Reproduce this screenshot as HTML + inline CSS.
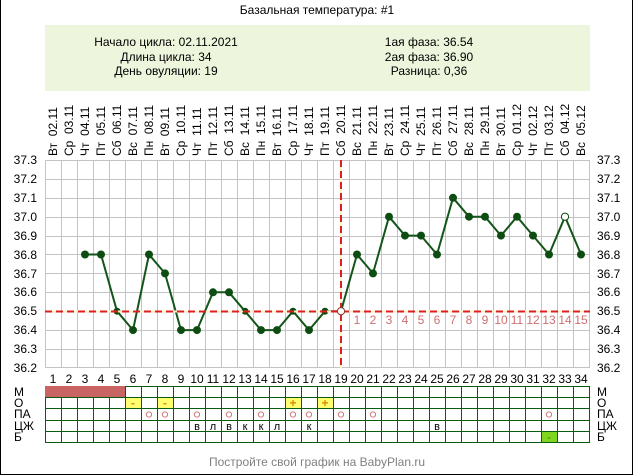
<!DOCTYPE html>
<html><head><meta charset="utf-8">
<style>
html,body{margin:0;padding:0;background:#fff;}
svg{display:block;font-family:"Liberation Sans",Arial,sans-serif;}
</style></head>
<body>
<svg width="634" height="476" viewBox="0 0 634 476" xmlns="http://www.w3.org/2000/svg">
<rect x="0" y="0" width="634" height="476" fill="#fff"/>
<path d="M0.5 0V474.5H632.5V0" fill="none" stroke="#000" stroke-width="1"/>

<text x="317" y="14" font-size="12" text-anchor="middle" fill="#000">Базальная температура: #1</text>

<rect x="45" y="25" width="545" height="66" fill="#edf5dc"/>
<g font-size="12" fill="#000" text-anchor="middle">
<text x="166" y="46">Начало цикла: 02.11.2021</text>
<text x="166" y="61">Длина цикла: 34</text>
<text x="166" y="75">День овуляции: 19</text>
<text x="429" y="46">1ая фаза: 36.54</text>
<text x="429" y="61">2ая фаза: 36.90</text>
<text x="429" y="75">Разница: 0,36</text>
</g>

<g transform="rotate(-90)" font-size="12" fill="#000">
<text x="-156" y="57">Вт&#160;&#160;02.11</text>
<text x="-156" y="73">Ср&#160;&#160;03.11</text>
<text x="-156" y="89">Чт&#160;&#160;04.11</text>
<text x="-156" y="105">Пт&#160;&#160;05.11</text>
<text x="-156" y="121">Сб&#160;&#160;06.11</text>
<text x="-156" y="137">Вс&#160;&#160;07.11</text>
<text x="-156" y="153">Пн&#160;&#160;08.11</text>
<text x="-156" y="169">Вт&#160;&#160;09.11</text>
<text x="-156" y="185">Ср&#160;&#160;10.11</text>
<text x="-156" y="201">Чт&#160;&#160;11.11</text>
<text x="-156" y="217">Пт&#160;&#160;12.11</text>
<text x="-156" y="233">Сб&#160;&#160;13.11</text>
<text x="-156" y="249">Вс&#160;&#160;14.11</text>
<text x="-156" y="265">Пн&#160;&#160;15.11</text>
<text x="-156" y="281">Вт&#160;&#160;16.11</text>
<text x="-156" y="297">Ср&#160;&#160;17.11</text>
<text x="-156" y="313">Чт&#160;&#160;18.11</text>
<text x="-156" y="329">Пт&#160;&#160;19.11</text>
<text x="-156" y="345">Сб&#160;&#160;20.11</text>
<text x="-156" y="361">Вс&#160;&#160;21.11</text>
<text x="-156" y="377">Пн&#160;&#160;22.11</text>
<text x="-156" y="393">Вт&#160;&#160;23.11</text>
<text x="-156" y="409">Ср&#160;&#160;24.11</text>
<text x="-156" y="425">Чт&#160;&#160;25.11</text>
<text x="-156" y="441">Пт&#160;&#160;26.11</text>
<text x="-156" y="457">Сб&#160;&#160;27.11</text>
<text x="-156" y="473">Вс&#160;&#160;28.11</text>
<text x="-156" y="489">Пн&#160;&#160;29.11</text>
<text x="-156" y="505">Вт&#160;&#160;30.11</text>
<text x="-156" y="521">Ср&#160;&#160;01.12</text>
<text x="-156" y="537">Чт&#160;&#160;02.12</text>
<text x="-156" y="553">Пт&#160;&#160;03.12</text>
<text x="-156" y="569">Сб&#160;&#160;04.12</text>
<text x="-156" y="585">Вс&#160;&#160;05.12</text>
</g>

<g stroke="#c4c4c4" stroke-width="1" fill="none" shape-rendering="crispEdges">
<path d="M45.5 160V368M61.5 160V368M77.5 160V368M93.5 160V368M109.5 160V368M125.5 160V368M141.5 160V368M157.5 160V368M173.5 160V368M189.5 160V368M205.5 160V368M221.5 160V368M237.5 160V368M253.5 160V368M269.5 160V368M285.5 160V368M301.5 160V368M317.5 160V368M333.5 160V368M349.5 160V368M365.5 160V368M381.5 160V368M397.5 160V368M413.5 160V368M429.5 160V368M445.5 160V368M461.5 160V368M477.5 160V368M493.5 160V368M509.5 160V368M525.5 160V368M541.5 160V368M557.5 160V368M573.5 160V368M589.5 160V368"/>
<path d="M45 160.5H590M45 179.5H590M45 198.5H590M45 217.5H590M45 236.5H590M45 254.5H590M45 273.5H590M45 292.5H590M45 311.5H590M45 330.5H590M45 349.5H590M45 367.5H590"/>
</g>

<g font-size="12" fill="#000">
<g text-anchor="end">
<text x="37" y="164">37.3</text>
<text x="37" y="183">37.2</text>
<text x="37" y="202">37.1</text>
<text x="37" y="221">37.0</text>
<text x="37" y="240">36.9</text>
<text x="37" y="259">36.8</text>
<text x="37" y="278">36.7</text>
<text x="37" y="296">36.6</text>
<text x="37" y="315">36.5</text>
<text x="37" y="334">36.4</text>
<text x="37" y="353">36.3</text>
<text x="37" y="372">36.2</text>
</g>
<g text-anchor="start">
<text x="597" y="164">37.3</text>
<text x="597" y="183">37.2</text>
<text x="597" y="202">37.1</text>
<text x="597" y="221">37.0</text>
<text x="597" y="240">36.9</text>
<text x="597" y="259">36.8</text>
<text x="597" y="278">36.7</text>
<text x="597" y="296">36.6</text>
<text x="597" y="315">36.5</text>
<text x="597" y="334">36.4</text>
<text x="597" y="353">36.3</text>
<text x="597" y="372">36.2</text>
</g>
</g>

<g font-size="12" fill="#000" text-anchor="middle">
<text x="53" y="383">1</text><text x="69" y="383">2</text><text x="85" y="383">3</text><text x="101" y="383">4</text><text x="117" y="383">5</text><text x="133" y="383">6</text><text x="149" y="383">7</text><text x="165" y="383">8</text><text x="181" y="383">9</text><text x="197" y="383">10</text><text x="213" y="383">11</text><text x="229" y="383">12</text><text x="245" y="383">13</text><text x="261" y="383">14</text><text x="277" y="383">15</text><text x="293" y="383">16</text><text x="309" y="383">17</text><text x="325" y="383">18</text><text x="341" y="383">19</text><text x="357" y="383">20</text><text x="373" y="383">21</text><text x="389" y="383">22</text><text x="405" y="383">23</text><text x="421" y="383">24</text><text x="437" y="383">25</text><text x="453" y="383">26</text><text x="469" y="383">27</text><text x="485" y="383">28</text><text x="501" y="383">29</text><text x="517" y="383">30</text><text x="533" y="383">31</text><text x="549" y="383">32</text><text x="565" y="383">33</text><text x="581" y="383">34</text>
</g>

<g font-size="12" fill="#cc7070" text-anchor="middle">
<text x="357" y="324">1</text><text x="373" y="324">2</text><text x="389" y="324">3</text><text x="405" y="324">4</text><text x="421" y="324">5</text><text x="437" y="324">6</text><text x="453" y="324">7</text><text x="469" y="324">8</text><text x="485" y="324">9</text><text x="501" y="324">10</text><text x="517" y="324">11</text><text x="533" y="324">12</text><text x="549" y="324">13</text><text x="565" y="324">14</text><text x="581" y="324">15</text>
</g>

<polyline fill="none" stroke="#14561a" stroke-width="2" stroke-linejoin="round"
points="85,254.5 101,254.5 117,311.2 133,330.1 149,254.5 165,273.4 181,330.1 197,330.1 213,292.3 229,292.3 245,311.2 261,330.1 277,330.1 293,311.2 309,330.1 325,311.2 341,311.2 357,254.5 373,273.4 389,216.7 405,235.6 421,235.6 437,254.5 453,197.8 469,216.7 485,216.7 501,235.6 517,216.7 533,235.6 549,254.5 565,216.7 581,254.5"/>
<g fill="#0d4d12">
<circle cx="85" cy="254.5" r="4"/><circle cx="101" cy="254.5" r="4"/><circle cx="117" cy="311.2" r="3.5"/><circle cx="133" cy="330.1" r="4"/><circle cx="149" cy="254.5" r="4"/><circle cx="165" cy="273.4" r="4"/><circle cx="181" cy="330.1" r="4"/><circle cx="197" cy="330.1" r="4"/><circle cx="213" cy="292.3" r="4"/><circle cx="229" cy="292.3" r="4"/><circle cx="245" cy="311.2" r="3.5"/><circle cx="261" cy="330.1" r="4"/><circle cx="277" cy="330.1" r="4"/><circle cx="293" cy="311.2" r="3.5"/><circle cx="309" cy="330.1" r="4"/><circle cx="325" cy="311.2" r="3.5"/><circle cx="357" cy="254.5" r="4"/><circle cx="373" cy="273.4" r="4"/><circle cx="389" cy="216.7" r="4"/><circle cx="405" cy="235.6" r="4"/><circle cx="421" cy="235.6" r="4"/><circle cx="437" cy="254.5" r="4"/><circle cx="453" cy="197.8" r="4"/><circle cx="469" cy="216.7" r="4"/><circle cx="485" cy="216.7" r="4"/><circle cx="501" cy="235.6" r="4"/><circle cx="517" cy="216.7" r="4"/><circle cx="533" cy="235.6" r="4"/><circle cx="549" cy="254.5" r="4"/><circle cx="581" cy="254.5" r="4"/>
</g>
<circle cx="565" cy="216.7" r="3.6" fill="#fff" stroke="#0d4d12" stroke-width="1"/>

<line x1="45" y1="311.5" x2="590" y2="311.5" stroke="#fff2c8" stroke-width="2"/>
<line x1="45" y1="311.5" x2="590" y2="311.5" stroke="#dd1f1f" stroke-width="2" stroke-dasharray="7 4"/>
<line x1="341" y1="160" x2="341" y2="368" stroke="#fff2c8" stroke-width="2"/>
<line x1="341" y1="160" x2="341" y2="368" stroke="#dd1f1f" stroke-width="2" stroke-dasharray="7 4"/>
<circle cx="341" cy="311.2" r="3.6" fill="#fff" stroke="#8a3a2a" stroke-width="1"/>

<rect x="45" y="386" width="81" height="11.5" fill="#c96464"/>
<g fill="#ffff70">
<rect x="126" y="398" width="15" height="10.5"/>
<rect x="158" y="398" width="15" height="10.5"/>
<rect x="286" y="398" width="15" height="10.5"/>
<rect x="318" y="398" width="15" height="10.5"/>
</g>
<rect x="542" y="432" width="15" height="10.5" fill="#7ed61e"/>
<g stroke="#0a5a10" stroke-width="1" fill="none" shape-rendering="crispEdges">
<path d="M45 397.5H590M45 408.5H590M45 420.5H590M45 431.5H590M45 442.5H590M126 386.5H590"/>
<path d="M45.5 397V443M61.5 397V443M77.5 397V443M93.5 397V443M109.5 397V443M125.5 386V443M141.5 386V443M157.5 386V443M173.5 386V443M189.5 386V443M205.5 386V443M221.5 386V443M237.5 386V443M253.5 386V443M269.5 386V443M285.5 386V443M301.5 386V443M317.5 386V443M333.5 386V443M349.5 386V443M365.5 386V443M381.5 386V443M397.5 386V443M413.5 386V443M429.5 386V443M445.5 386V443M461.5 386V443M477.5 386V443M493.5 386V443M509.5 386V443M525.5 386V443M541.5 386V443M557.5 386V443M573.5 386V443M589.5 386V443"/>
</g>
<g font-size="12" fill="#e08a00" text-anchor="middle" font-weight="bold">
<text x="133" y="407">-</text>
<text x="165" y="407">-</text>
<text x="293" y="407">+</text>
<text x="325" y="407">+</text>
</g>
<text x="549" y="441" font-size="12" fill="#3a7a10" text-anchor="middle">-</text>
<g fill="none" stroke="#d07a7a" stroke-width="1">
<circle cx="149" cy="414.5" r="2.6"/><circle cx="165" cy="414.5" r="2.6"/><circle cx="197" cy="414.5" r="2.6"/><circle cx="229" cy="414.5" r="2.6"/><circle cx="261" cy="414.5" r="2.6"/><circle cx="293" cy="414.5" r="2.6"/><circle cx="309" cy="414.5" r="2.6"/><circle cx="341" cy="414.5" r="2.6"/><circle cx="373" cy="414.5" r="2.6"/><circle cx="549" cy="414.5" r="2.6"/>
</g>
<g font-size="11" fill="#000" text-anchor="middle">
<text x="197" y="430">в</text><text x="213" y="430">л</text><text x="229" y="430">в</text><text x="245" y="430">к</text><text x="261" y="430">к</text><text x="277" y="430">л</text><text x="309" y="430">к</text><text x="437" y="430">в</text>
</g>
<g font-size="12" fill="#000">
<text x="14" y="396">М</text><text x="14" y="407">О</text><text x="14" y="418">ПА</text><text x="14" y="430">ЦЖ</text><text x="14" y="441">Б</text>
<text x="597" y="396">М</text><text x="597" y="407">О</text><text x="597" y="418">ПА</text><text x="597" y="430">ЦЖ</text><text x="597" y="441">Б</text>
</g>

<text x="317" y="466" font-size="12" fill="#808080" text-anchor="middle">Постройте свой график на BabyPlan.ru</text>
</svg>
</body></html>
